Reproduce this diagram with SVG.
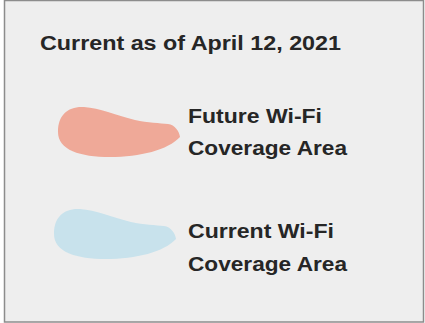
<svg xmlns="http://www.w3.org/2000/svg" width="425" height="323" viewBox="0 0 425 323">
<style>
.t{font-family:"Liberation Sans",Arial,sans-serif;font-weight:bold;font-size:20px;fill:#262626}
</style>
<defs>
<path id="blob" d="M0,25 C0,8 10,-1 26,0 C42,1 57,8 77,13 C90,16 102,16 110,17 C117,18 121,24 122,30 C110,43 82,50 52,50 C22,50 0,43 0,25 Z"/>
</defs>
<rect x="0" y="0" width="425" height="323" fill="#ffffff"/>
<rect x="4.5" y="0.5" width="419" height="321.5" fill="#eeeeee" stroke="#8c8c8c" stroke-width="1.5"/>
<text class="t" x="40" y="50" textLength="301" lengthAdjust="spacingAndGlyphs">Current as of April 12, 2021</text>
<g id="future">
<use href="#blob" x="58" y="107" fill="#efa998"/>
<text class="t" x="188" y="122.5" textLength="134" lengthAdjust="spacingAndGlyphs">Future Wi-Fi</text>
<text class="t" x="188" y="155" textLength="159" lengthAdjust="spacingAndGlyphs">Coverage Area</text>
</g>
<g id="current">
<use href="#blob" x="54" y="209" fill="#c8e2ec"/>
<text class="t" x="188" y="238" textLength="146" lengthAdjust="spacingAndGlyphs">Current Wi-Fi</text>
<text class="t" x="188" y="271" textLength="159" lengthAdjust="spacingAndGlyphs">Coverage Area</text>
</g>
<g id="connectors"/>
</svg>
